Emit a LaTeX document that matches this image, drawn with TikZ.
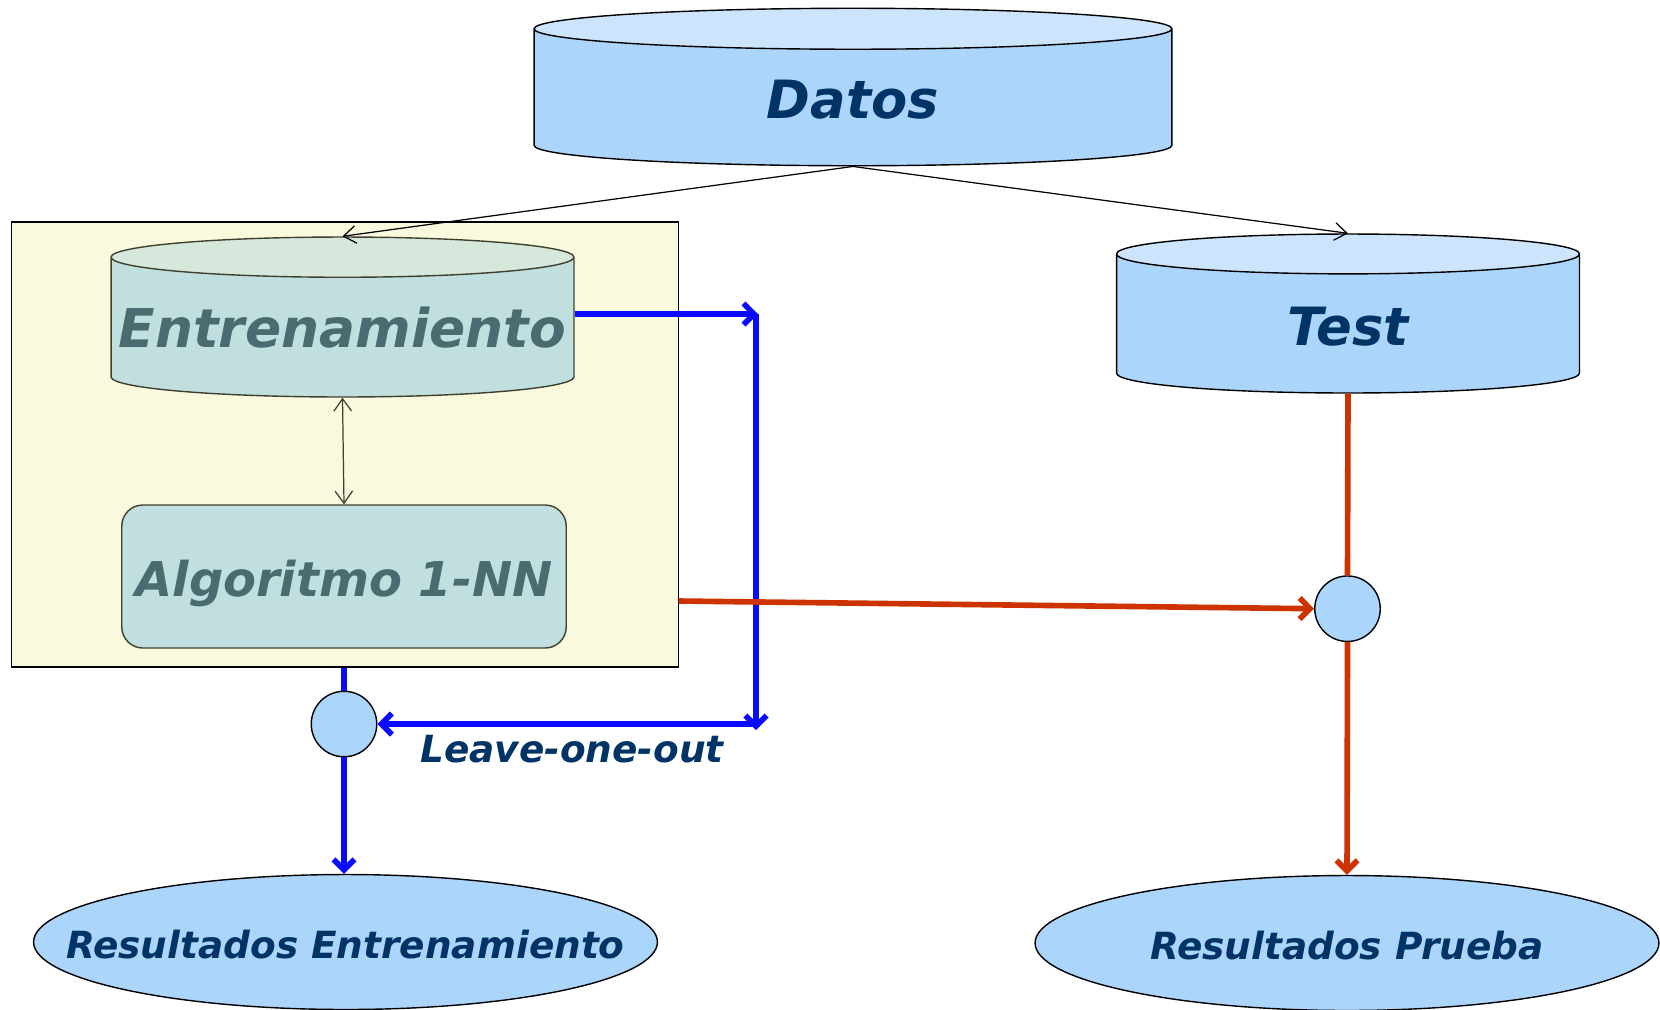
\documentclass[tikz,border=0pt]{standalone}
\usepackage{fontspec}
\setmainfont{DejaVu Sans}
\usetikzlibrary{shapes.geometric,arrows.meta,calc}

\definecolor{navy}{HTML}{003366}
\definecolor{skyfill}{HTML}{ABD5FB}
\definecolor{skytop}{HTML}{CCE5FD}
\definecolor{tealfill}{HTML}{C0DFDE}
\definecolor{tealtop}{HTML}{D6E8DC}
\definecolor{tealtext}{HTML}{4A6B70}
\definecolor{olive}{HTML}{404030}
\definecolor{boxfill}{HTML}{F9F9DE}
\definecolor{loopblue}{HTML}{0A0AFF}
\definecolor{testred}{HTML}{CC3300}

% lower a label without changing its box
\newcommand{\sinktext}[2]{\raisebox{-#1}[\height][\depth]{#2}}

\tikzset{
  store/.style={cylinder, shape border rotate=90, draw, line width=0.8pt,
    cylinder uses custom fill, cylinder body fill=skyfill, cylinder end fill=skytop,
    text=navy, inner sep=0pt, anchor=shape center,
    font=\fontsize{30}{36}\selectfont\bfseries\itshape},
  result/.style={ellipse, draw, line width=0.8pt, fill=skyfill, text=navy,
    minimum width=12.48cm, minimum height=2.7cm, inner sep=0pt,
    font=\fontsize{21.3}{25}\selectfont\bfseries\itshape},
  junction/.style={circle, draw, line width=0.8pt, fill=skyfill, minimum size=1.31cm, inner sep=0pt},
  blueflow/.style={draw=loopblue, line width=3.2pt, -{Straight Barb[length=6pt,width=12pt]}},
  redflow/.style={draw=testred, line width=3.2pt, -{Straight Barb[length=6pt,width=12pt]}},
  datalink/.style={draw, line width=0.7pt, -{Straight Barb[length=7pt,width=10pt]}}
}

\begin{document}
\begin{tikzpicture}[x=0.02cm, y=-0.02cm]
  \useasboundingbox (0,0) rectangle (1660,1009);

  % data sets
  \node[store, aspect=0.238, minimum width=12.76cm, minimum height=3.15cm] (datos) at (853,87) {\sinktext{0.05cm}{Datos}};
  \node[store, aspect=0.328, minimum width=9.26cm, minimum height=3.18cm] (test) at (1348,313.5) {\sinktext{0.06cm}{Test}};

  % training block
  \node[draw, line width=0.8pt, fill=boxfill, minimum width=13.34cm, minimum height=8.9cm, inner sep=0pt] (box) at (345.1,444.5) {};
  \node[store, aspect=0.09, minimum width=9.26cm, minimum height=3.2cm, draw=olive,
        cylinder body fill=tealfill, cylinder end fill=tealtop, text=tealtext,
        font=\fontsize{30.4}{36}\selectfont\bfseries\itshape] (train) at (342.5,317) {Entrenamiento};
  \node[draw=olive, line width=0.8pt, fill=tealfill, rounded corners=0.42cm, minimum width=8.89cm, minimum height=2.86cm,
        text=tealtext, font=\fontsize{27.3}{32}\selectfont\bfseries\itshape] (algo) at (344,576.5) {\sinktext{0.13cm}{Algoritmo 1-NN}};

  % junctions and results
  \node[junction] (cl) at (344,724) {};
  \node[junction] (cr) at (1347.5,608.7) {};
  \node[result] (resE) at (345.5,942) {\makebox[0pt]{\sinktext{0.06cm}{Resultados Entrenamiento}}};
  \node[result] (resP) at (1347,943) {\makebox[0pt]{\sinktext{0.05cm}{Resultados Prueba}}};
  \node[text=navy, font=\fontsize{21.3}{25}\selectfont\bfseries\itshape] (loo) at (572,749.5) {Leave-one-out};

  \coordinate (k1) at (758,314);
  \coordinate (k2) at (756,730);
  \coordinate (r0) at (678.6,601);

  % split of the data
  \draw[datalink] (datos.bottom) -- (train.top);
  \draw[datalink] (datos.bottom) -- (test.top);
  \draw[datalink, draw=olive, {Straight Barb[length=7pt,width=10pt]}-{Straight Barb[length=7pt,width=10pt]}] (train.bottom) -- (algo.north);

  % leave-one-out loop
  \draw[blueflow] (train.east |- k1) -- (k1);
  \draw[blueflow] (k2 |- k1) -- (k2);
  \draw[blueflow] (k2 |- cl) -- (cl.east);
  \draw[blueflow, -] (cl |- box.south) -- (cl.north);
  \draw[blueflow] (cl.south) -- (cl.south |- resE.north);

  % test path
  \draw[redflow] (r0) -- (cr.west);
  \draw[redflow, -] (test.bottom) -- (cr.north);
  \draw[redflow] (cr.south) -- (resP.north);
\end{tikzpicture}
\end{document}
